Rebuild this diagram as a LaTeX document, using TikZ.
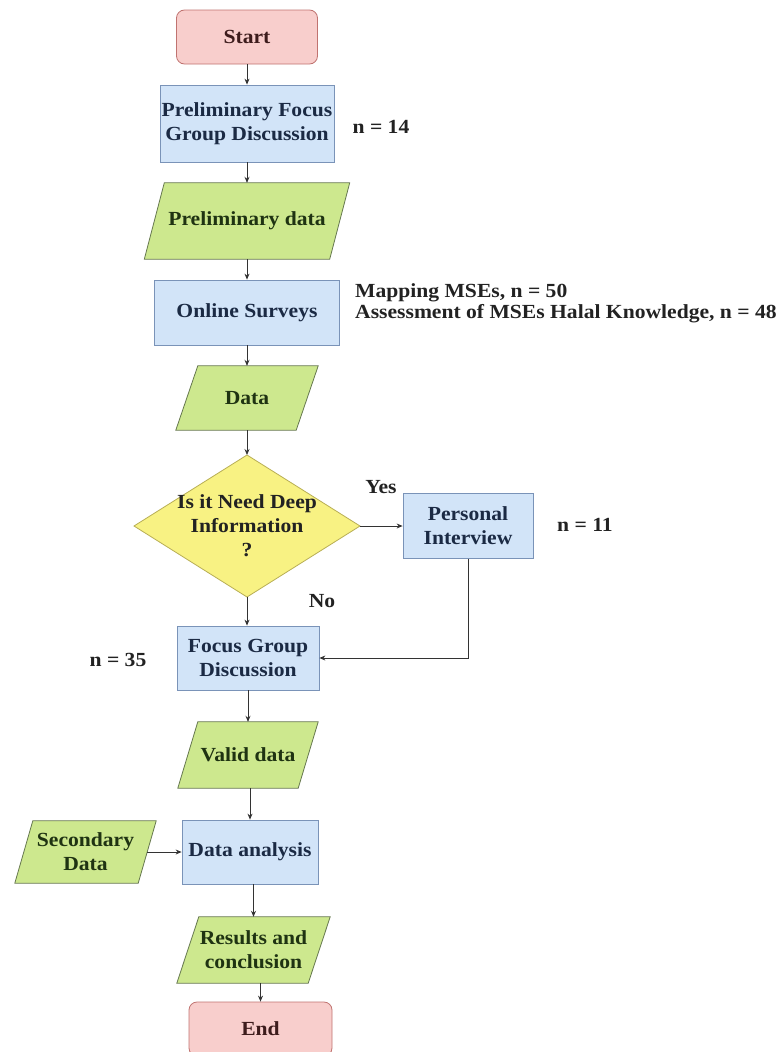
\documentclass[tikz,border=0pt]{standalone}
\usepackage{fontspec}
\setmainfont[FakeStretch=1.08]{Liberation Serif}
\usetikzlibrary{shapes.geometric,arrows.meta,backgrounds,calc}

\definecolor{pinkF}{HTML}{F8CECC}
\definecolor{pinkD}{HTML}{C07370}
\definecolor{blueF}{HTML}{D2E4F8}
\definecolor{blueD}{HTML}{7A93B8}
\definecolor{greenF}{HTML}{CDE88E}
\definecolor{greenD}{HTML}{66784F}
\definecolor{yelF}{HTML}{F8F283}
\definecolor{yelD}{HTML}{B8AE55}
\definecolor{txtB}{HTML}{1B2A44}
\definecolor{txtG}{HTML}{1F3312}
\definecolor{txtR}{HTML}{3D1C1C}
\definecolor{txtK}{HTML}{222222}
\definecolor{lineC}{HTML}{333333}

\begin{document}
\begin{tikzpicture}[x=1pt,y=-1pt,
  base/.style={font=\fontsize{20}{24}\selectfont\bfseries, align=center, inner sep=1pt},
  termbox/.style={base, rectangle, draw=pinkD, fill=pinkF, rounded corners=8pt, text=txtR, line width=0.8pt},
  procbox/.style={base, rectangle, draw=blueD, fill=blueF, text=txtB, line width=0.8pt},
  iobox/.style={base, rectangle, text=txtG},
  iofill/.style={draw=greenD, fill=greenF, line width=0.8pt},
  decbox/.style={diamond, draw=yelD, fill=yelF, line width=0.8pt, inner sep=0pt, outer sep=0pt},
  lbl/.style={base, text=txtK},
  arr/.style={-{Stealth[length=6pt,width=5pt]}, line width=0.8pt, draw=lineC}
]
\useasboundingbox (0,0) rectangle (783,1052);
\clip (0,0) rectangle (783,1052);

% nodes
\node[termbox, minimum width=141pt, minimum height=54pt] (start) at (247,37) {Start};
\node[procbox, minimum width=174pt, minimum height=77pt] (pfgd) at (247,123.5) {Preliminary Focus\\Group Discussion};
\node[iobox, minimum width=205pt, minimum height=76pt] (pdata) at (247,221) {Preliminary data};
\node[procbox, minimum width=185pt, minimum height=65pt] (online) at (247,312.5) {Online Surveys};
\node[iobox, minimum width=142pt, minimum height=64pt] (data) at (247,398) {Data};
\node[decbox, minimum width=226pt, minimum height=142pt,
      label={[lbl, text=txtK]center:Is it Need Deep\\Information\\?}] (dec) at (247,526) {};
\node[procbox, minimum width=130pt, minimum height=65pt] (pi) at (468,526) {Personal\\Interview};
\node[procbox, minimum width=142pt, minimum height=64pt] (fgd) at (248,658) {Focus Group\\Discussion};
\node[iobox, minimum width=140pt, minimum height=66pt] (valid) at (248,755) {Valid data};
\node[iobox, minimum width=141pt, minimum height=62pt] (sec) at (85.5,852) {Secondary\\Data};
\node[procbox, minimum width=136pt, minimum height=64pt] (ana) at (250,852) {Data analysis};
\node[iobox, minimum width=153pt, minimum height=66pt] (res) at (253.5,950) {Results and\\conclusion};
\node[termbox, minimum width=143pt, minimum height=54pt] (end) at (260.5,1029) {End};

% parallelogram outlines
\begin{scope}[on background layer]
\foreach \n/\s in {pdata/20,data/22,valid/20,sec/18,res/22}{
  \draw[iofill] ($(\n.north west)+(\s,0)$) -- (\n.north east) -- ($(\n.south east)-(\s,0)$) -- (\n.south west) -- cycle;
}
\end{scope}

% labels
\node[lbl] (n14) at (381,127) {n = 14};
\node[lbl, anchor=west, align=left, font=\fontsize{20}{21}\selectfont\bfseries] (map) at (354,303) {Mapping MSEs, n = 50\\Assessment of MSEs Halal Knowledge, n = 48};
\node[lbl] (yes) at (381,487) {Yes};
\node[lbl] (n11) at (585,525) {n = 11};
\node[lbl] (no) at (322,601) {No};
\node[lbl] (n35) at (118,660) {n = 35};

% connectors
\draw[arr] (start.south) -- (pfgd.north);
\draw[arr] (pfgd.south) -- (pdata.north);
\draw[arr] (pdata.south) -- (online.north);
\draw[arr] (online.south) -- (data.north);
\draw[arr] (data.south) -- (dec.north);
\draw[arr] (dec.east) -- (pi.west);
\draw[arr] (dec.south) -- (dec.south |- fgd.north);
\draw[arr] (pi.south) |- (fgd.east);
\draw[arr] (fgd.south) -- (fgd.south |- valid.north);
\draw[arr] (ana.north |- valid.south) -- (ana.north);
\draw[arr] ($(sec.east)-(9,0)$) -- (ana.west);
\draw[arr] (res.north |- ana.south) -- (res.north);
\draw[arr] (end.north |- res.south) -- (end.north);
\end{tikzpicture}
\end{document}
